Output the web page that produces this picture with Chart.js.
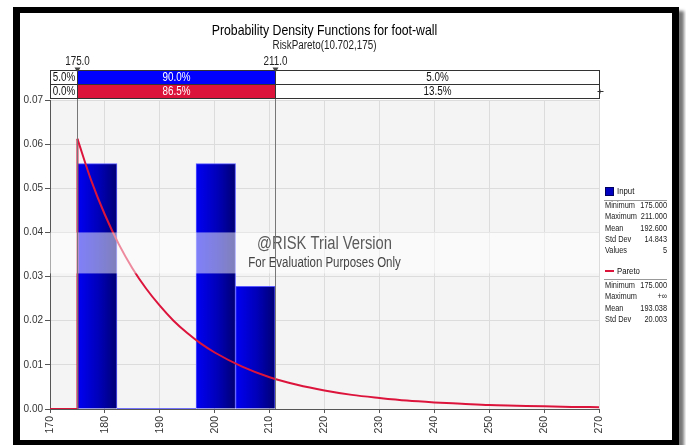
<!DOCTYPE html>
<html>
<head>
<meta charset="utf-8">
<title>Probability Density Functions for foot-wall</title>
<script src="https://cdn.jsdelivr.net/npm/chart.js@4.4.1/dist/chart.umd.min.js"></script>
<style>
    html, body { margin: 0; padding: 0; background: #fff; }
    body { width: 686px; height: 445px; position: relative; overflow: hidden; }
    .frame {
        position: absolute; left: 13px; top: 7px;
        width: 652px; height: 427px;
        border: 7px solid #000; border-top-width: 6px;
        box-shadow: 5px 4px 3px #777;
        background: #fff;
    }
    #chart { position: absolute; left: 0; top: 0; width: 686px; height: 445px; }
</style>
</head>
<body>
<div class="frame"></div>
<canvas id="chart" width="686" height="445"></canvas>
<script>
const FONT = '"Liberation Sans", Arial, sans-serif';
const SQUEEZE = 0.82; // the original uses a narrow face

const chartTitle = 'Probability Density Functions for foot-wall';
const chartSubtitle = 'RiskPareto(10.702,175)';

// Input histogram: 5 values, bins of 7.2 between 175 and 211
const binCenters = [178.6, 185.8, 193.0, 200.2, 207.4];
const binDensity = [0.0556, 0, 0, 0.0556, 0.0278];

// Pareto density
const paretoX = [175, 177.5, 180, 182.5, 185, 187.5, 190, 192.5, 195, 197.5, 200, 205, 210,
                 215, 220, 225, 230, 235, 240, 245, 250, 255, 260, 265, 270];
const paretoY = [0.0612, 0.0518, 0.0440, 0.0374, 0.0319, 0.0273, 0.0234, 0.0200, 0.0172, 0.0148,
                 0.0128, 0.0096, 0.0072, 0.0055, 0.0042, 0.0032, 0.0025, 0.0019, 0.0015, 0.0012,
                 0.0009, 0.00075, 0.0006, 0.00048, 0.0004];
// flat part left of the threshold, then the jump at 175
const stepX = [170, 175, 175];
const stepY = [0, 0, 0.0612];

// axes
const xMin = 170, xMax = 270, xStep = 10;
const yMin = 0, yMax = 0.07, yStep = 0.01;

// delimiter bars above the plot
const delimiters = [175.0, 211.0];
const inputPct = [5.0, 90.0, 5.0];
const paretoPct = [0.0, 86.5, 13.5];

// legend statistics
const inputStatNames = ['Minimum', 'Maximum', 'Mean', 'Std Dev', 'Values'];
const inputStatValues = ['175.000', '211.000', '192.600', '14.843', '5'];
const paretoStatNames = ['Minimum', 'Maximum', 'Mean', 'Std Dev'];
const paretoStatValues = ['175.000', '+\u221e', '193.038', '20.003'];

const BLUE = '#0000ff';
const RED = '#dc143c';
const binWidth = binCenters[1] - binCenters[0];

// draw text with a narrower horizontal scale
function narrowText(ctx, text, x, y, size, align, color) {
    ctx.save();
    ctx.translate(x, y);
    ctx.scale(SQUEEZE, 1);
    ctx.font = size + 'px ' + FONT;
    ctx.textAlign = align;
    ctx.textBaseline = 'middle';
    ctx.fillStyle = color;
    ctx.fillText(text, 0, 0);
    ctx.restore();
}

function barGradient(c) {
    const chart = c.chart;
    if (c.type !== 'data' || !chart.chartArea) return '#0000b0';
    const xs = chart.scales.x;
    const l = xs.getPixelForValue(c.raw.x - binWidth / 2);
    const r = xs.getPixelForValue(c.raw.x + binWidth / 2);
    const g = chart.ctx.createLinearGradient(l, 0, r, 0);
    g.addColorStop(0, '#0000f4');
    g.addColorStop(0.55, '#0000b8');
    g.addColorStop(1, '#000074');
    return g;
}

const plotBackground = {
    id: 'plotBackground',
    beforeDraw(chart) {
        const { ctx, chartArea: a } = chart;
        ctx.save();
        ctx.fillStyle = '#f4f4f4';
        ctx.fillRect(a.left, a.top, a.right - a.left, a.bottom - a.top);
        ctx.restore();
    }
};

const overlay = {
    id: 'overlay',
    afterDatasetsDraw(chart) {
        const { ctx, chartArea: a, scales: { x, y } } = chart;
        ctx.save();

        // trial watermark band
        const bandTop = y.getPixelForValue(0.04);
        ctx.fillStyle = 'rgba(255,255,255,0.5)';
        ctx.fillRect(a.left, bandTop, a.right - a.left, 41);
        const cx = (a.left + a.right) / 2;
        narrowText(ctx, '@RISK Trial Version', cx, bandTop + 12, 18, 'center', '#5a5a5a');
        narrowText(ctx, 'For Evaluation Purposes Only', cx, bandTop + 31, 14, 'center', '#444');

        // delimiter lines
        ctx.strokeStyle = '#777';
        ctx.lineWidth = 1;
        delimiters.forEach(d => {
            const px = Math.round(x.getPixelForValue(d)) + 0.5;
            ctx.beginPath();
            ctx.moveTo(px, a.top - 30);
            ctx.lineTo(px, a.bottom);
            ctx.stroke();
        });
        ctx.restore();
    },
    afterDraw(chart) {
        const { ctx, chartArea: a, scales: { x } } = chart;
        const p0 = Math.round(x.getPixelForValue(delimiters[0])) + 0.5;
        const p1 = Math.round(x.getPixelForValue(delimiters[1])) + 0.5;
        const left = Math.round(a.left) + 0.5;
        const right = Math.round(a.right) + 0.5;
        const rowTop = Math.round(a.top) - 29.5;
        const rowH = 14;
        ctx.save();

        // title block
        const cx = (a.left + a.right) / 2;
        narrowText(ctx, chartTitle, cx, 31, 15, 'center', '#000');
        narrowText(ctx, chartSubtitle, cx, 46, 12, 'center', '#222');

        [[inputPct, BLUE], [paretoPct, RED]].forEach(([pct, col], r) => {
            const top = rowTop + r * rowH;
            const cells = [[left, p0, '#fff'], [p0, p1, col], [p1, right, '#fff']];
            cells.forEach(([l, rr, fill], i) => {
                ctx.fillStyle = fill;
                ctx.fillRect(l, top, rr - l, rowH);
                ctx.strokeStyle = '#333';
                ctx.lineWidth = 1;
                ctx.strokeRect(l, top, rr - l, rowH);
                narrowText(ctx, pct[i].toFixed(1) + '%', (l + rr) / 2, top + rowH / 2 + 0.5, 12,
                    'center', i === 1 ? '#fff' : '#111');
            });
        });

        // small end marker on the right
        ctx.strokeStyle = '#333';
        ctx.beginPath();
        ctx.moveTo(right - 2, rowTop + rowH * 1.5);
        ctx.lineTo(right + 4, rowTop + rowH * 1.5);
        ctx.moveTo(right + 0.5, rowTop + rowH * 1.5 - 2);
        ctx.lineTo(right + 0.5, rowTop + rowH * 1.5 + 2);
        ctx.stroke();

        // delimiter labels and markers
        [p0, p1].forEach((px, i) => {
            narrowText(ctx, delimiters[i].toFixed(1), px, rowTop - 9, 12, 'center', '#222');
            ctx.beginPath();
            ctx.moveTo(px - 3, rowTop - 3);
            ctx.lineTo(px + 3, rowTop - 3);
            ctx.lineTo(px, rowTop + 2);
            ctx.closePath();
            ctx.fillStyle = '#444';
            ctx.fill();
        });

        // legend
        const lx = Math.round(a.right) + 6;
        const rx = lx + 62;

        ctx.fillStyle = '#0000c0';
        ctx.fillRect(lx, 187, 9, 9);
        ctx.strokeStyle = '#000060';
        ctx.strokeRect(lx + 0.5, 187.5, 8, 8);
        narrowText(ctx, 'Input', lx + 12, 191.5, 9.5, 'left', '#111');
        ctx.strokeStyle = '#999';
        ctx.beginPath();
        ctx.moveTo(lx - 1, 200.5);
        ctx.lineTo(rx, 200.5);
        ctx.stroke();
        inputStatNames.forEach((n, i) => {
            const yy = 205.8 + i * 11.2;
            narrowText(ctx, n, lx, yy, 9, 'left', '#222');
            narrowText(ctx, inputStatValues[i], rx, yy, 9, 'right', '#222');
        });

        ctx.strokeStyle = RED;
        ctx.lineWidth = 2;
        ctx.beginPath();
        ctx.moveTo(lx, 271);
        ctx.lineTo(lx + 9, 271);
        ctx.stroke();
        narrowText(ctx, 'Pareto', lx + 12, 271, 9.5, 'left', '#111');
        ctx.strokeStyle = '#999';
        ctx.lineWidth = 1;
        ctx.beginPath();
        ctx.moveTo(lx - 1, 279.5);
        ctx.lineTo(rx, 279.5);
        ctx.stroke();
        paretoStatNames.forEach((n, i) => {
            const yy = 285.5 + i * 11.3;
            narrowText(ctx, n, lx, yy, 9, 'left', '#222');
            narrowText(ctx, paretoStatValues[i], rx, yy, 9, 'right', '#222');
        });
        ctx.restore();
    }
};

new Chart(document.getElementById('chart'), {
    type: 'bar',
    data: {
        datasets: [{
            type: 'line',
            label: 'Pareto',
            data: paretoX.map((v, i) => ({ x: v, y: paretoY[i] })),
            borderColor: RED,
            borderWidth: 2,
            pointRadius: 0,
            cubicInterpolationMode: 'monotone',
            order: 0
        }, {
            type: 'line',
            label: 'Pareto step',
            data: stepX.map((v, i) => ({ x: v, y: stepY[i] })),
            borderColor: RED,
            borderWidth: 2,
            pointRadius: 0,
            tension: 0,
            order: 0
        }, {
            type: 'line',
            label: 'Input baseline',
            data: [{ x: binCenters[1] - binWidth / 2, y: 0 }, { x: binCenters[2] + binWidth / 2, y: 0 }],
            borderColor: '#4848ff',
            borderWidth: 1.5,
            pointRadius: 0,
            order: 1
        }, {
            label: 'Input',
            data: binCenters.map((v, i) => ({ x: v, y: binDensity[i] })),
            backgroundColor: barGradient,
            borderColor: '#5a5aff',
            borderWidth: 1,
            barPercentage: 1,
            categoryPercentage: 1,
            order: 2
        }]
    },
    options: {
        responsive: false,
        animation: false,
        layout: { padding: { top: 100, right: 87, bottom: 0, left: 0 } },
        scales: {
            x: {
                type: 'linear',
                min: xMin,
                max: xMax,
                offset: false,
                ticks: {
                    stepSize: xStep,
                    minRotation: 90,
                    maxRotation: 90,
                    padding: 3,
                    color: '#333',
                    font: { family: FONT, size: 10.5 },
                    callback: v => v
                },
                grid: { color: '#dcdcdc', tickColor: '#555', tickLength: 4, offset: false },
                border: { color: '#555' },
                afterFit: s => { s.height = 36; }
            },
            y: {
                min: yMin,
                max: yMax,
                ticks: {
                    stepSize: yStep,
                    padding: 2,
                    color: '#333',
                    font: { family: FONT, size: 10 },
                    callback: v => v.toFixed(2)
                },
                grid: { color: '#dcdcdc', tickColor: '#555', tickLength: 5 },
                border: { color: '#555' },
                afterFit: s => { s.width = 50; }
            }
        },
        plugins: {
            legend: { display: false },
            tooltip: { enabled: false }
        }
    },
    plugins: [plotBackground, overlay]
});
</script>
</body>
</html>
